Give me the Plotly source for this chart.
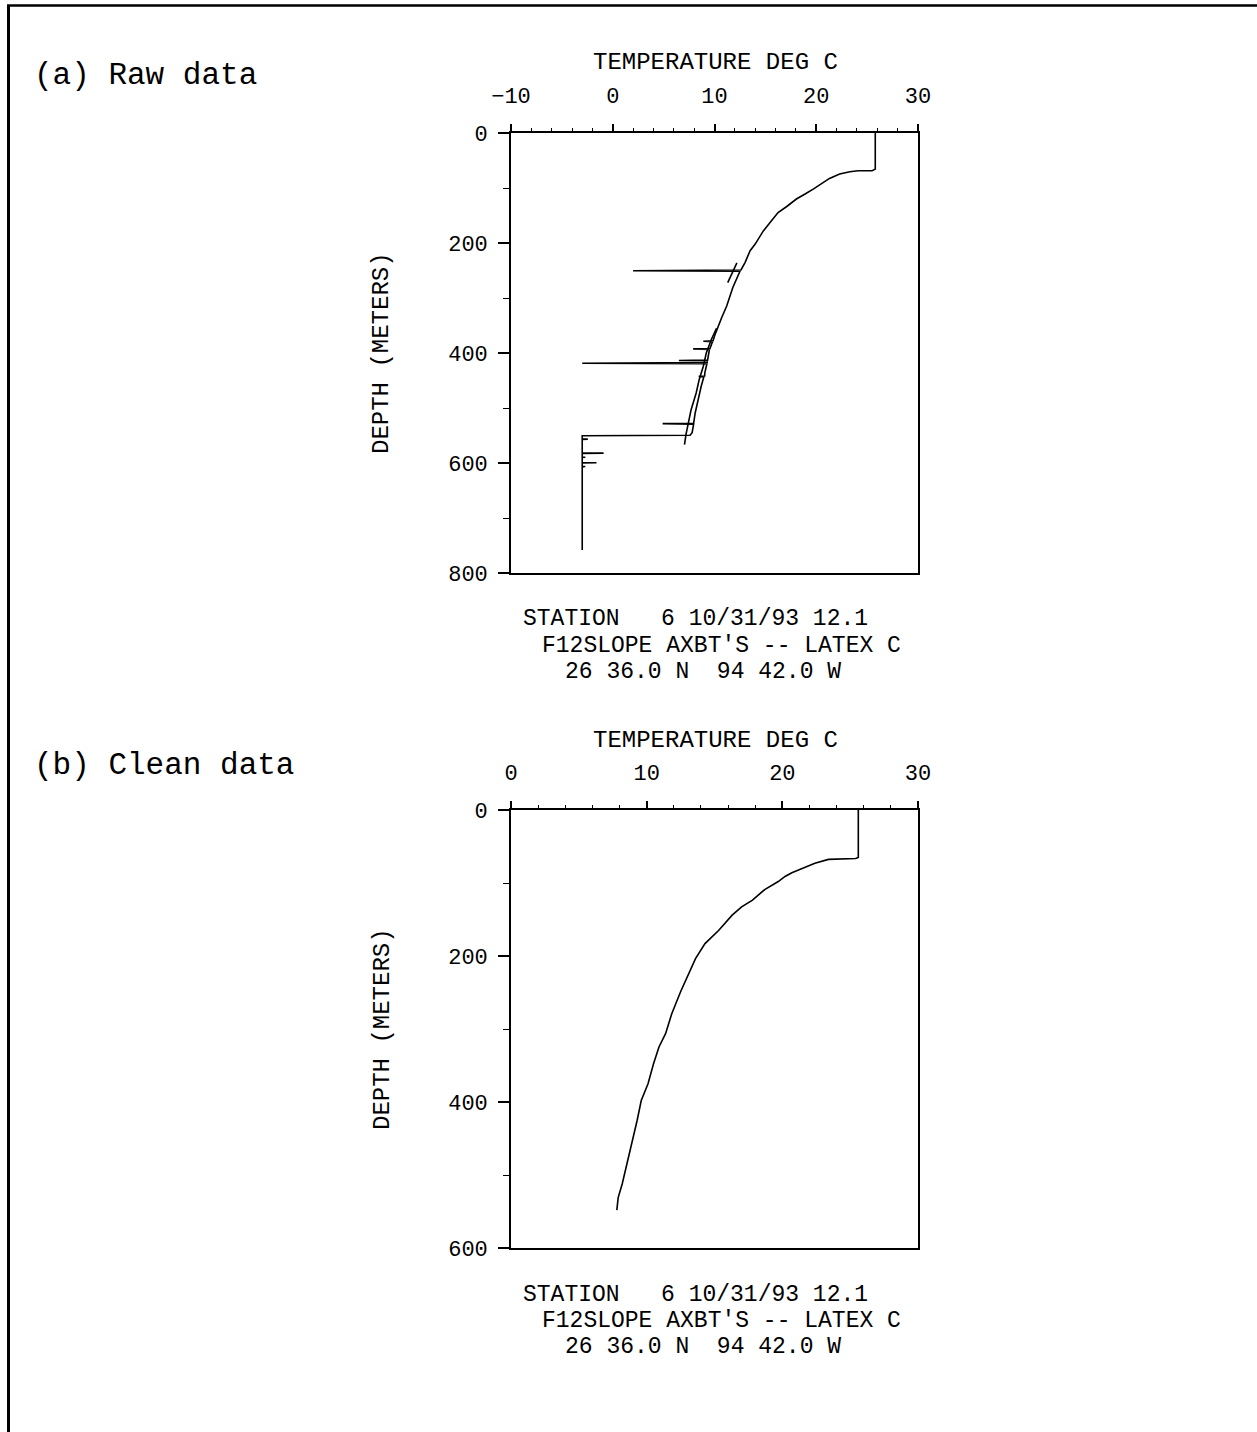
import plotly.graph_objects as go

# figure size in pixels
W, H = 1257, 1432

# (a) raw XBT profile: temperature (deg C) vs depth (m), spikes included
raw_temp = [25.8, 25.8, 25.5, 24.1, 23.3, 22.3, 21.3, 20.5, 19.7, 18.9, 18.05, 17.1,
            16.25, 15.6, 14.8, 14.0, 13.5, 13.0, 12.6, 2.0, 12.5, 11.8, 11.2, 10.7,
            10.3, 10.0, 9.85, 8.9, 9.8, 9.55, 7.9, 9.5, 9.32, 6.5, 9.3, 9.28, -3.0,
            9.25, 9.05, 9.03, 8.45, 8.95, 8.7, 8.4, 8.1, 7.95, 4.9, 7.95, 7.8, 7.6,
            -3.0, -3.0, -2.45, -3.0, -3.0, -0.9, -3.0, -3.0, -2.7, -3.0, -3.0, -1.6,
            -3.0, -3.0, -2.7, -3.0, -3.0]
raw_depth = [0, 65.6, 68.6, 68.6, 70.4, 74.7, 82.6, 92.9, 102, 111, 120, 133.6,
             144.5, 159.7, 178, 202, 214, 235.6, 249, 250.5, 251.5, 281, 314.5, 336,
             354, 369, 378, 378.5, 379.5, 392, 392.5, 393.5, 413, 413.5, 414.5, 417.5, 418.5,
             419.5, 436, 442, 442.5, 443.5, 460, 484.5, 509, 528, 528.5, 529.5, 545, 549.5,
             550.5, 556, 556.5, 557, 581.5, 582, 582.5, 589, 589.5, 590, 599, 599.5,
             600, 606, 606.5, 607, 758]

# second (offset) trace of the raw drop
raw2_temp = [10.2, 9.7, 9.2, 8.9, 8.5, 8.2, 7.7, 7.4, 7.2, 7.05]
raw2_depth = [355, 375, 399.5, 424, 448, 472.6, 503, 527, 548, 566.5]

# short slanted stroke near 250 m
raw3_temp = [11.3, 12.2]
raw3_depth = [272, 236]

# (b) cleaned profile
clean_temp = [25.6, 25.6, 25.4, 23.4, 22.4, 21.7, 20.7, 20.2, 19.7, 18.7, 17.8, 17.0,
              16.3, 15.3, 14.3, 13.6, 13.1, 12.5, 11.85, 11.4, 10.9, 10.5, 10.1, 9.6,
              9.3, 8.9, 8.5, 8.2, 7.9, 7.8]
clean_depth = [0, 65, 66.5, 67.7, 73, 78, 86, 91, 98, 109, 123.5, 132.7,
               144, 165, 183, 203.6, 224, 249, 279, 306, 325, 348, 375, 398,
               425, 457, 489, 512, 531, 548]

station_lines = ["STATION   6 10/31/93 12.1",
                 "F12SLOPE AXBT'S -- LATEX C",
                 "26 36.0 N  94 42.0 W"]

PLOT_FONT = "Liberation Mono, DejaVu Sans Mono, monospace"
LABEL_FONT = "Courier New, Liberation Mono, monospace"


def px_x(x):
    return x / W


def px_y(y):
    return 1 - y / H


fig = go.Figure()

line = dict(color='black', width=1.6)
fig.add_trace(go.Scatter(x=raw_temp, y=raw_depth, mode='lines', line=line,
                         xaxis='x', yaxis='y', hoverinfo='skip'))
fig.add_trace(go.Scatter(x=raw2_temp, y=raw2_depth, mode='lines', line=line,
                         xaxis='x', yaxis='y', hoverinfo='skip'))
fig.add_trace(go.Scatter(x=raw3_temp, y=raw3_depth, mode='lines', line=line,
                         xaxis='x', yaxis='y', hoverinfo='skip'))
fig.add_trace(go.Scatter(x=clean_temp, y=clean_depth, mode='lines', line=line,
                         xaxis='x2', yaxis='y2', hoverinfo='skip'))


def temp_axis(rng, anchor):
    return dict(
        domain=[px_x(511), px_x(918)], anchor=anchor, side='top', range=rng,
        tickmode='linear', tick0=0, dtick=10, ticks='outside', ticklen=7,
        tickwidth=1.5, tickcolor='black', ticklabelstandoff=12,
        minor=dict(dtick=2, tick0=0, ticks='outside', ticklen=3.5,
                   tickwidth=1.2, tickcolor='black', showgrid=False),
        showline=True, linecolor='black', linewidth=1.6, mirror=True,
        showgrid=False, zeroline=False, automargin=False,
        tickfont=dict(family=PLOT_FONT, size=22, color='black'),
    )


def depth_axis(rng, top, bottom, anchor):
    return dict(
        domain=[px_y(bottom), px_y(top)], anchor=anchor, range=rng,
        tickmode='linear', tick0=0, dtick=200, ticks='outside', ticklen=11,
        tickwidth=1.5, tickcolor='black', ticklabelstandoff=6,
        minor=dict(dtick=100, tick0=0, ticks='outside', ticklen=6,
                   tickwidth=1.2, tickcolor='black', showgrid=False),
        showline=True, linecolor='black', linewidth=1.6, mirror=True,
        showgrid=False, zeroline=False, automargin=False,
        tickfont=dict(family=PLOT_FONT, size=22, color='black'),
    )


fig.update_layout(
    width=W, height=H,
    margin=dict(l=0, r=0, t=0, b=0, pad=0, autoexpand=False),
    paper_bgcolor='white', plot_bgcolor='white',
    showlegend=False,
    xaxis=temp_axis([-10, 30], 'y'),
    yaxis=depth_axis([800, 0], 133, 573, 'x'),
    xaxis2=temp_axis([0, 30], 'y2'),
    yaxis2=depth_axis([600, 0], 810, 1248, 'x2'),
)

annotations = []


def text(x, y, s, size, family=PLOT_FONT, xanchor='center', angle=0):
    annotations.append(dict(
        x=px_x(x), y=px_y(y), xref='paper', yref='paper', text=s,
        showarrow=False, xanchor=xanchor, yanchor='middle', textangle=angle,
        font=dict(family=family, size=size, color='black')))


text(32, 75, "(a) Raw data", 31, LABEL_FONT, xanchor='left')
text(32, 765, "(b) Clean data", 31, LABEL_FONT, xanchor='left')

for top, bottom in [(133, 573), (810, 1248)]:
    text(716, top - 70, "TEMPERATURE DEG C", 24)
    text(382, (top + bottom) / 2, "DEPTH (METERS)", 24, angle=-90)
    for i, (s, x0) in enumerate(zip(station_lines, [521, 540, 563])):
        text(x0, bottom + 46.5 + 26 * i, s, 23, xanchor='left')

fig.update_layout(annotations=annotations)

# page frame (top and left edges)
fig.add_shape(type='line', xref='paper', yref='paper', x0=px_x(7), x1=1,
              y0=px_y(5.5), y1=px_y(5.5), line=dict(color='black', width=2.5))
fig.add_shape(type='line', xref='paper', yref='paper', x0=px_x(8.5), x1=px_x(8.5),
              y0=px_y(5), y1=0, line=dict(color='black', width=3))

# drop the default body margin so the figure sits at the page corner
fig.write_html("out.html", config={'displayModeBar': False},
               post_script="document.body.style.margin = '0';")
